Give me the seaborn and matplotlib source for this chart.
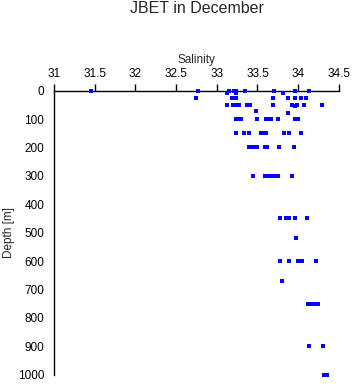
import numpy as np
import pandas as pd
import matplotlib
matplotlib.use("Agg")
from matplotlib import pyplot as plt
import seaborn as sns

# Salinity readings per sampling depth
depth_levels = [0, 10, 25, 50, 55, 70, 80, 100, 150, 200, 300,
                450, 520, 600, 670, 750, 900, 1000]
salinity_by_depth = [
    [31.46, 32.765, 33.147, 33.208, 33.238, 33.349, 33.697, 33.964, 34.137],
    [33.122, 33.233, 33.817],
    [32.74, 33.19, 33.24, 33.69, 33.87, 33.96, 34.04, 34.09],
    [33.13, 33.20, 33.22, 33.27, 33.37, 33.41, 33.69, 33.93, 33.99, 34.07, 34.29],
    [33.96],
    [33.48],
    [33.87],
    [33.24, 33.28, 33.30, 33.49, 33.60, 33.63, 33.67, 33.75, 33.96, 34.00],
    [33.23, 33.34, 33.39, 33.54, 33.56, 33.61, 33.82, 33.89, 34.03],
    [33.39, 33.45, 33.50, 33.59, 33.62, 33.77, 33.95],
    [33.45, 33.59, 33.63, 33.67, 33.71, 33.75, 33.93],
    [33.775, 33.85, 33.89, 33.956, 34.107],
    [33.977],
    [33.775, 33.885, 33.996, 34.046, 34.218],
    [33.80],
    [34.124, 34.15, 34.19, 34.247],
    [34.132, 34.30],
    [34.32, 34.36],
]

xticks = [31, 31.5, 32, 32.5, 33, 33.5, 34, 34.5]
yticks = [0, 100, 200, 300, 400, 500, 600, 700, 800, 900, 1000]

df = pd.DataFrame({
    "depth": np.concatenate([[d] * len(s) for d, s in zip(depth_levels, salinity_by_depth)]),
    "salinity": np.concatenate(salinity_by_depth),
})

sns.set_style("white")
plt.rcParams["font.family"] = ["Liberation Sans", "DejaVu Sans"]

fig = plt.figure(figsize=(3.53, 3.84), dpi=100)
ax = fig.add_axes([0.153, 0.024, 0.807, 0.740])

sns.scatterplot(data=df, x="salinity", y="depth", ax=ax, marker="s",
                s=7, color="#0000ff", linewidth=0, legend=False,
                zorder=5, clip_on=False)

ax.set_xlim(31, 34.5)
ax.set_ylim(1000, 0)
ax.set_xticks(xticks)
ax.set_xticklabels([f"{t:g}" for t in xticks])
ax.set_yticks(yticks)

ax.xaxis.tick_top()
ax.xaxis.set_label_position("top")
ax.spines["right"].set_visible(False)
ax.spines["bottom"].set_visible(False)
for side in ["top", "left"]:
    ax.spines[side].set_color("black")
    ax.spines[side].set_linewidth(1)

ax.tick_params(axis="x", direction="out", length=5, width=1, labelsize=8.5, pad=3, colors="black")
ax.tick_params(axis="y", direction="out", length=4, width=1, labelsize=8.5, pad=3, colors="black")
ax.set_xlabel("Salinity", fontsize=8.5, labelpad=3)
ax.set_ylabel("Depth [m]", fontsize=8.5, labelpad=2)

fig.text(0.557, 0.978, "JBET in December", ha="center", va="center", fontsize=11.5)

fig.savefig("out.png", dpi=100)
